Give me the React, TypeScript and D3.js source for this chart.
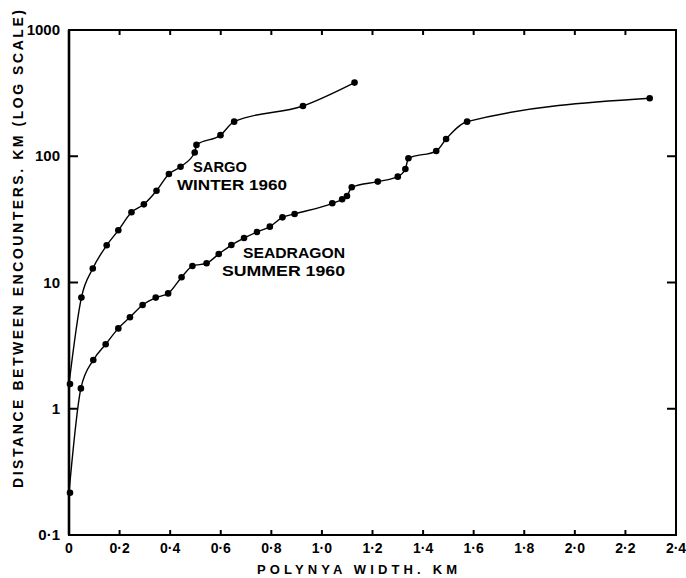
import React, { useRef, useEffect } from "react";
import * as d3 from "d3";

// Sargo, winter 1960
const sargoWidth = [0, 0.049, 0.094, 0.149, 0.195, 0.247, 0.296, 0.346, 0.395, 0.441, 0.497, 0.504, 0.599, 0.653, 0.925, 1.129];
const sargoDist = [1.57, 7.6, 12.9, 19.7, 25.9, 36, 41.6, 53.3, 72.3, 82.6, 107, 123, 147, 188, 250, 383];

// Seadragon, summer 1960
const seadragonWidth = [
  0, 0.047, 0.096, 0.145, 0.195, 0.241, 0.291, 0.343, 0.392, 0.445, 0.488, 0.544, 0.592, 0.642, 0.692, 0.743,
  0.794, 0.844, 0.892, 1.041, 1.08, 1.099, 1.118, 1.221, 1.3, 1.33, 1.342, 1.452, 1.491, 1.574, 2.296,
];
const seadragonDist = [
  0.216, 1.45, 2.43, 3.24, 4.33, 5.3, 6.63, 7.59, 8.2, 11.0, 13.5, 14.2, 16.8, 19.8, 22.5, 25.1,
  27.7, 32.8, 34.9, 42.4, 45.6, 48.4, 56.8, 63, 68.9, 79.3, 96.4, 110, 137, 188, 288,
];

const xTicks = [0, 0.2, 0.4, 0.6, 0.8, 1.0, 1.2, 1.4, 1.6, 1.8, 2.0, 2.2, 2.4];
const xTickLabels = ["0", "0·2", "0·4", "0·6", "0·8", "1·0", "1·2", "1·4", "1·6", "1·8", "2·0", "2·2", "2·4"];
const yTicks = [0.1, 1, 10, 100, 1000];
const yTickLabels = ["0·1", "1", "10", "100", "1000"];

const FONT = "'Liberation Sans', Arial, sans-serif";

export default function App() {
  const ref = useRef<SVGSVGElement>(null);

  useEffect(() => {
    if (!ref.current) return;
    const svg = d3.select(ref.current);
    svg.selectAll("*").remove();

    const left = 69, right = 676, top = 30, bottom = 535;

    const x = d3.scaleLinear().domain([0, 2.4]).range([left, right]);
    const y = d3.scaleLog().domain([0.1, 1000]).range([bottom, top]);

    // frame
    svg.append("rect")
      .attr("x", left).attr("y", top)
      .attr("width", right - left).attr("height", bottom - top)
      .attr("fill", "none").attr("stroke", "#000").attr("stroke-width", 2);
    svg.append("line")
      .attr("x1", left).attr("x2", left).attr("y1", top).attr("y2", bottom)
      .attr("stroke", "#000").attr("stroke-width", 2.6);

    // x ticks bottom + top (inward)
    const xt = svg.append("g");
    xTicks.slice(1, -1).forEach((v) => {
      xt.append("line").attr("x1", x(v)).attr("x2", x(v)).attr("y1", bottom).attr("y2", bottom - 5)
        .attr("stroke", "#000").attr("stroke-width", 2);
      xt.append("line").attr("x1", x(v)).attr("x2", x(v)).attr("y1", top).attr("y2", top + 5)
        .attr("stroke", "#000").attr("stroke-width", 2);
    });
    xTicks.forEach((v, i) => {
      xt.append("text")
        .attr("x", x(v)).attr("y", 553)
        .attr("text-anchor", "middle")
        .attr("font-family", FONT).attr("font-size", 14).attr("font-weight", "bold")
        .text(xTickLabels[i]);
    });

    // y ticks left + right (inward)
    const yt = svg.append("g");
    yTicks.slice(1, -1).forEach((v) => {
      yt.append("line").attr("x1", left).attr("x2", left + 9).attr("y1", y(v)).attr("y2", y(v))
        .attr("stroke", "#000").attr("stroke-width", 2);
      yt.append("line").attr("x1", right).attr("x2", right - 9).attr("y1", y(v)).attr("y2", y(v))
        .attr("stroke", "#000").attr("stroke-width", 2);
    });
    yTicks.forEach((v, i) => {
      yt.append("text")
        .attr("x", 60).attr("y", y(v) + 5)
        .attr("text-anchor", "end")
        .attr("font-family", FONT).attr("font-size", 15).attr("font-weight", "bold")
        .text(yTickLabels[i]);
    });

    // axis titles
    svg.append("text")
      .attr("x", 257).attr("y", 574)
      .attr("font-family", FONT).attr("font-size", 13).attr("font-weight", "bold")
      .attr("textLength", 200).attr("lengthAdjust", "spacing")
      .text("POLYNYA  WIDTH. KM");
    svg.append("text")
      .attr("transform", "translate(23,488) rotate(-90)")
      .attr("font-family", FONT).attr("font-size", 14).attr("font-weight", "bold")
      .attr("textLength", 478).attr("lengthAdjust", "spacing")
      .text("DISTANCE  BETWEEN  ENCOUNTERS. KM  (LOG SCALE)");

    // series
    const line = d3.line<[number, number]>()
      .x((d) => x(d[0]))
      .y((d) => y(d[1]))
      .curve(d3.curveMonotoneX);

    const series: [number, number][][] = [
      sargoWidth.map((w, i) => [w, sargoDist[i]]),
      seadragonWidth.map((w, i) => [w, seadragonDist[i]]),
    ];

    series.forEach((pts) => {
      svg.append("path")
        .attr("d", line(pts))
        .attr("fill", "none")
        .attr("stroke", "#000")
        .attr("stroke-width", 1.4);
      svg.append("g")
        .selectAll("circle")
        .data(pts)
        .enter()
        .append("circle")
        .attr("cx", (d) => x(d[0]) + (d[0] === 0 ? 1 : 0))
        .attr("cy", (d) => y(d[1]))
        .attr("r", 3.3)
        .attr("fill", "#000");
    });

    // series labels
    const lab = (t: string, lx: number, ly: number, len: number) =>
      svg.append("text")
        .attr("x", lx).attr("y", ly)
        .attr("font-family", FONT).attr("font-size", 15).attr("font-weight", "bold")
        .attr("textLength", len).attr("lengthAdjust", "spacingAndGlyphs")
        .text(t);
    lab("SARGO", 193, 172, 54);
    lab("WINTER 1960", 177, 190, 110);
    lab("SEADRAGON", 243, 258, 102);
    lab("SUMMER  1960", 222, 276, 123);
  }, []);

  return (
    <svg
      ref={ref}
      width={686}
      height={578}
      style={{ position: "absolute", left: 0, top: 0, background: "#fff" }}
    />
  );
}
